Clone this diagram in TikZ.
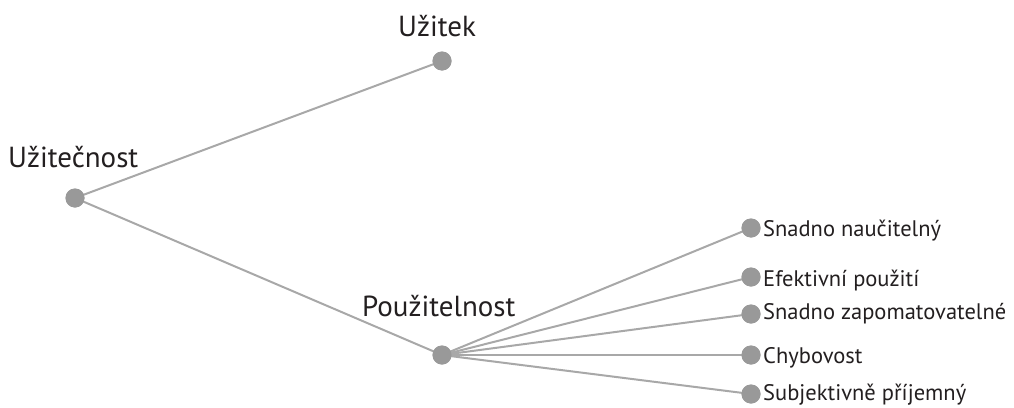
\documentclass[tikz,border=0pt]{standalone}
\usepackage{fontspec}
\setmainfont{PT Sans}
\definecolor{edgegray}{HTML}{A8A8A8}
\definecolor{dotgray}{HTML}{999999}
\definecolor{labelink}{HTML}{231F20}
\begin{document}
\begin{tikzpicture}[x=1pt,y=-1pt,
  dot/.style={circle,fill=dotgray,inner sep=0pt,minimum size=19pt},
  edge/.style={draw=edgegray,line width=2pt},
  biglabel/.style={anchor=base west,inner sep=0pt,text=labelink,font=\fontsize{29}{29}\selectfont},
  leaflabel/.style={anchor=base west,inner sep=0pt,text=labelink,font=\fontsize{22.5}{22.5}\selectfont}]
\useasboundingbox (0,0) rectangle (1014,407);
% tree nodes
\node[dot] (root) at (75,198) {};
\node[dot] (uzitek) at (442,61) {};
\node[dot] (pouz) at (442,355) {};
\node[dot] (l1) at (751,228) {};
\node[dot] (l2) at (751,277) {};
\node[dot] (l3) at (751,314) {};
\node[dot] (l4) at (751,355) {};
\node[dot] (l5) at (751,394) {};
% edges
\draw[edge] (root.center) -- (uzitek.center);
\draw[edge] (root.center) -- (pouz.center);
\foreach \l in {l1,l2,l3,l4,l5} \draw[edge] (pouz.center) -- (\l.center);
% dots drawn again over the edge ends
\foreach \n in {root,uzitek,pouz,l1,l2,l3,l4,l5} \fill[dotgray] (\n) circle (9.5);
% labels
\node[biglabel] (troot) at (8,167) {Užitečnost};
\node[biglabel] (tuzitek) at (398,36) {Užitek};
\node[biglabel] (tpouz) at (362,316) {Použitelnost};
\node[leaflabel] (t1) at (763,236) {Snadno naučitelný};
\node[leaflabel] (t2) at (763,286) {Efektivní použití};
\node[leaflabel] (t3) at (763,319) {Snadno zapomatovatelné};
\node[leaflabel] (t4) at (763,363) {Chybovost};
\node[leaflabel] (t5) at (763,400) {Subjektivně příjemný};
\end{tikzpicture}
\end{document}
